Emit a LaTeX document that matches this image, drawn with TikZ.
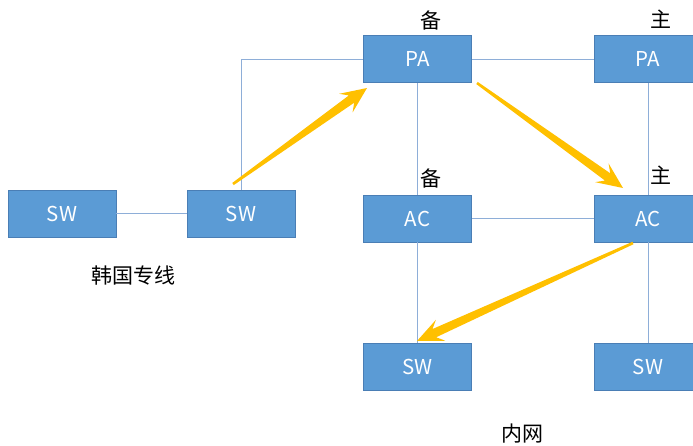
\documentclass[tikz,border=0pt]{standalone}
\usepackage{fontspec}
\setmainfont{Noto Sans CJK SC}
\usetikzlibrary{calc}
\definecolor{boxfill}{HTML}{5B9BD5}
\definecolor{boxline}{HTML}{4A7EB5}
\definecolor{linkc}{HTML}{8EAED8}
\definecolor{arrowc}{HTML}{FFC000}
\tikzset{
  x=1pt,y=-1pt,
  dev/.style={draw=boxline,line width=0.7pt,fill=boxfill,minimum width=108pt,minimum height=47pt,inner sep=0pt,text=white,font=\fontsize{20.5}{22}\selectfont},
  link/.style={draw=linkc,line width=1pt},
  lbl/.style={inner sep=0pt,font=\fontsize{21}{23}\selectfont,text=black}
}
\newcommand\mytaper[2]{%
  \coordinate (tA) at (#1); \coordinate (tB) at (#2);
  \coordinate (tC) at ($(tB)!19pt!(tA)$);
  \coordinate (tD) at ($(tB)!26pt!(tA)$);
  \fill[arrowc] ($(tA)!1.3pt!90:(tB)$) -- ($(tC)!4.5pt!90:(tB)$) -- ($(tD)!11.5pt!90:(tB)$) -- (tB) -- ($(tD)!11.5pt!-90:(tB)$) -- ($(tC)!4.5pt!-90:(tB)$) -- ($(tA)!1.3pt!-90:(tB)$) -- cycle;}
\begin{document}
\begin{tikzpicture}
\useasboundingbox (0,0) rectangle (693,445);
\clip (0,0) rectangle (693,445);
\fill[white] (0,0) rectangle (693,445);
% nodes
\node[dev] (swL) at (62,213.5) {SW};
\node[dev] (swM) at (241,213.5) {SW};
\node[dev] (paB) at (417.5,59) {PA};
\node[dev] (paM) at (648,59) {PA};
\node[dev] (acB) at (417.5,218.5) {AC};
\node[dev] (acM) at (648,218.5) {AC};
\node[dev] (swB) at (417.5,367) {SW};
\node[dev] (swR) at (648,366.5) {SW};
% links
\draw[link] (swL.east) -- (swM.west);
\draw[link] (swM.north) |- (paB.west);
\draw[link] (paB.east) -- (paM.west);
\draw[link] (paB.south) -- (acB.north);
\draw[link] (paM.south) -- (acM.north);
\draw[link] (acB.east) -- (acM.west);
\draw[link] (acB.south) -- (swB.north);
\draw[link] (acM.south) -- (swR.north);
% labels
\node[lbl] (l1) at (431,20) {备};
\node[lbl] (l2) at (661,19) {主};
\node[lbl] (l3) at (431,178) {备};
\node[lbl] (l4) at (661,175) {主};
\node[lbl] (l5) at (133,276) {韩国专线};
\node[lbl] (l6) at (522,434) {内网};
% arrows
\coordinate (a1s) at (233,184); \coordinate (a1e) at (367,88);
\coordinate (a2s) at (477,83); \coordinate (a2e) at (623,188);
\coordinate (a3s) at (633,243); \coordinate (a3e) at (417,341);
\mytaper{a1s}{a1e}
\mytaper{a2s}{a2e}
\mytaper{a3s}{a3e}
\end{tikzpicture}
\end{document}
